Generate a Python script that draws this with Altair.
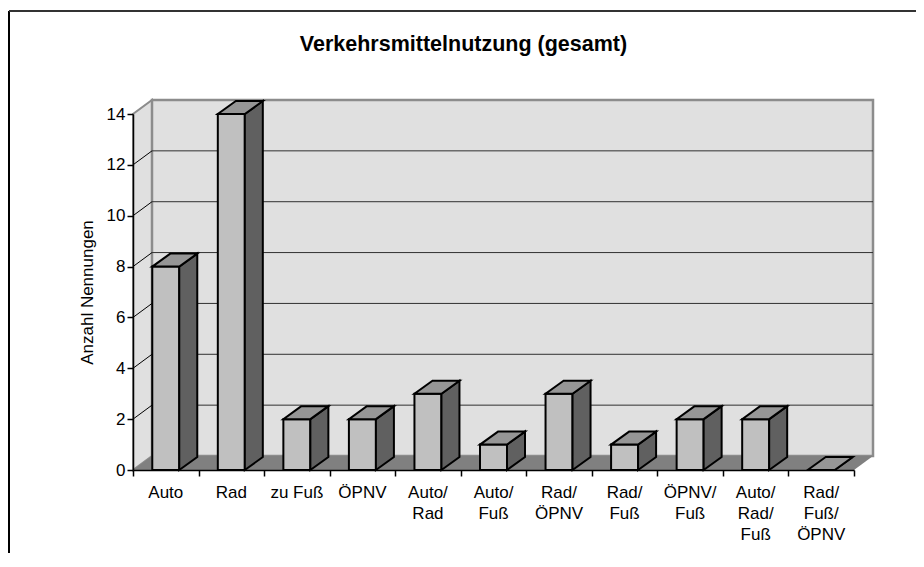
import altair as alt
import pandas as pd

# ---- data ----
categories = ["Auto", "Rad", "zu Fuß", "ÖPNV", "Auto/Rad", "Auto/Fuß",
              "Rad/ÖPNV", "Rad/Fuß", "ÖPNV/Fuß", "Auto/Rad/Fuß", "Rad/Fuß/ÖPNV"]
counts = [8, 14, 2, 2, 3, 1, 3, 1, 2, 2, 0]
y_ticks = [0, 2, 4, 6, 8, 10, 12, 14]
chart_title = "Verkehrsmittelnutzung (gesamt)"
y_title = "Anzahl Nennungen"

# ---- layout / style ----
W, H = 721, 356
N = len(categories)
YMAX = y_ticks[-1]
FONT = "Arial, Liberation Sans, Helvetica, sans-serif"

# 3-D depth expressed in pixels, converted to data units
WALL_DX = 19 * N / W
WALL_DY = 14 * YMAX / H
BAR_DX = 18 * N / W
BAR_DY = 13 * YMAX / H
BAR_HALF = 13.5 * N / W

xs = alt.Scale(domain=[0, N], nice=False, zero=False)
ys = alt.Scale(domain=[0, YMAX], nice=False, zero=False)

# ---- tables ----
bars = pd.DataFrame({
    "cat": categories,
    "v": counts,
    "base": [0] * N,
    "center": [i + 0.5 for i in range(N)],
})
bars["xl"] = bars["center"] - BAR_HALF
bars["xr"] = bars["center"] + BAR_HALF
bars["label"] = ["/\n".join(c.split("/")) for c in categories]

side_rows, top_rows = [], []
for c, v, xl, xr in zip(bars["cat"], bars["v"], bars["xl"], bars["xr"]):
    side_rows.append({"cat": c, "x": xr, "yb": 0, "yt": v})
    side_rows.append({"cat": c, "x": xr + BAR_DX, "yb": BAR_DY, "yt": v + BAR_DY})
    top_rows.append({"cat": c, "y": v, "x1": xl, "x2": xr})
    top_rows.append({"cat": c, "y": v + BAR_DY, "x1": xl + BAR_DX, "x2": xr + BAR_DX})
side = pd.DataFrame(side_rows)
top = pd.DataFrame(top_rows)

left_wall = pd.DataFrame({"x": [0, WALL_DX], "yb": [0, WALL_DY], "yt": [YMAX, YMAX + WALL_DY]})
back_wall = pd.DataFrame({"x": [WALL_DX], "x2": [N + WALL_DX], "y": [WALL_DY], "y2": [YMAX + WALL_DY]})
floor = pd.DataFrame({"y": [0, WALL_DY], "x1": [0, WALL_DX], "x2": [N, N + WALL_DX]})
grid = pd.DataFrame({"k": y_ticks[1:-1]})
grid["yb"] = grid["k"] + WALL_DY
grid["x"] = WALL_DX
grid["x2"] = N + WALL_DX
grid["x0"] = 0.0

# ---- shared axes (identical on every layer so they merge) ----
x_axis = alt.Axis(values=list(range(N + 1)), labels=False, title=None, tickSize=6,
                  tickColor="black", domainColor="black", domainWidth=1.5, tickWidth=1.5,
                  grid=False, zindex=1)
y_axis = alt.Axis(values=y_ticks, title=y_title, tickSize=6, tickColor="black",
                  domainColor="black", domainWidth=1.5, tickWidth=1.5, grid=False, zindex=1,
                  labelFont=FONT, labelFontSize=17, labelColor="black", labelPadding=2,
                  titleFont=FONT, titleFontSize=17, titleFontWeight="normal",
                  titleColor="black", titlePadding=10)


def X(f, **kw):
    return alt.X(f, scale=xs, axis=x_axis, **kw)


def Y(f, **kw):
    return alt.Y(f, scale=ys, axis=y_axis, **kw)


lw = alt.Chart(left_wall).mark_area(fill="#E0E0E0", stroke="#8C8C8C", strokeWidth=2).encode(
    x=X("x:Q"), y=Y("yb:Q", stack=None), y2="yt:Q",
)
bw = alt.Chart(back_wall).mark_rect(fill="#E0E0E0", stroke="#8C8C8C", strokeWidth=2.5).encode(
    x=X("x:Q"), x2="x2:Q", y=Y("y:Q"), y2="y2:Q",
)
fl = alt.Chart(floor).mark_area(orient="horizontal", fill="#808080").encode(
    y=Y("y:Q"), x=X("x1:Q", stack=None), x2="x2:Q",
)
gl = alt.Chart(grid).mark_rule(color="#303030", strokeWidth=1).encode(
    x=X("x:Q"), x2="x2:Q", y=Y("yb:Q"),
)
dg = alt.Chart(grid).mark_rule(color="black", strokeWidth=1).encode(
    x=X("x0:Q"), x2="x:Q", y=Y("k:Q"), y2="yb:Q",
)
front = alt.Chart(bars).mark_rect(fill="#C0C0C0", stroke="black", strokeWidth=2).encode(
    x=X("xl:Q"), x2="xr:Q", y=Y("base:Q"), y2="v:Q",
)
sd = alt.Chart(side).mark_area(fill="#606060", stroke="black", strokeWidth=2).encode(
    x=X("x:Q"), y=Y("yb:Q", stack=None), y2="yt:Q", detail="cat:N",
)
tp = alt.Chart(top).mark_area(orient="horizontal", fill="#969696", stroke="black",
                              strokeWidth=2).encode(
    y=Y("y:Q"), x=X("x1:Q", stack=None), x2="x2:Q", detail="cat:N",
)
labels = alt.Chart(bars).mark_text(font=FONT, fontSize=17, color="black", baseline="top",
                                   align="center", lineBreak="\n", lineHeight=21,
                                   dy=15).encode(
    x=X("center:Q"), y=Y("base:Q"), text="label:N",
)
frame_left = alt.Chart(bars).mark_rule(color="black", strokeWidth=2).encode(
    x=alt.value(-124), y=alt.value(-103), y2=alt.value(H + 300))
frame_top = alt.Chart(bars).mark_rule(color="#333333", strokeWidth=2).encode(
    x=alt.value(-124), x2=alt.value(W + 300), y=alt.value(-103))

chart = alt.layer(lw, bw, fl, gl, dg, front, sd, tp, labels, frame_left, frame_top).properties(
    width=W, height=H,
    title=alt.TitleParams(text=chart_title, font=FONT, fontSize=21.5, fontWeight="bold",
                          color="black", anchor="middle", frame="group", dx=-30, dy=49),
    padding={"left": 125, "top": 106, "right": 62, "bottom": 83},
    autosize=alt.AutoSizeParams(type="none"),
).configure_view(stroke=None).configure(background="white")

chart.save("out.html", embed_options={"renderer": "svg", "actions": False})
